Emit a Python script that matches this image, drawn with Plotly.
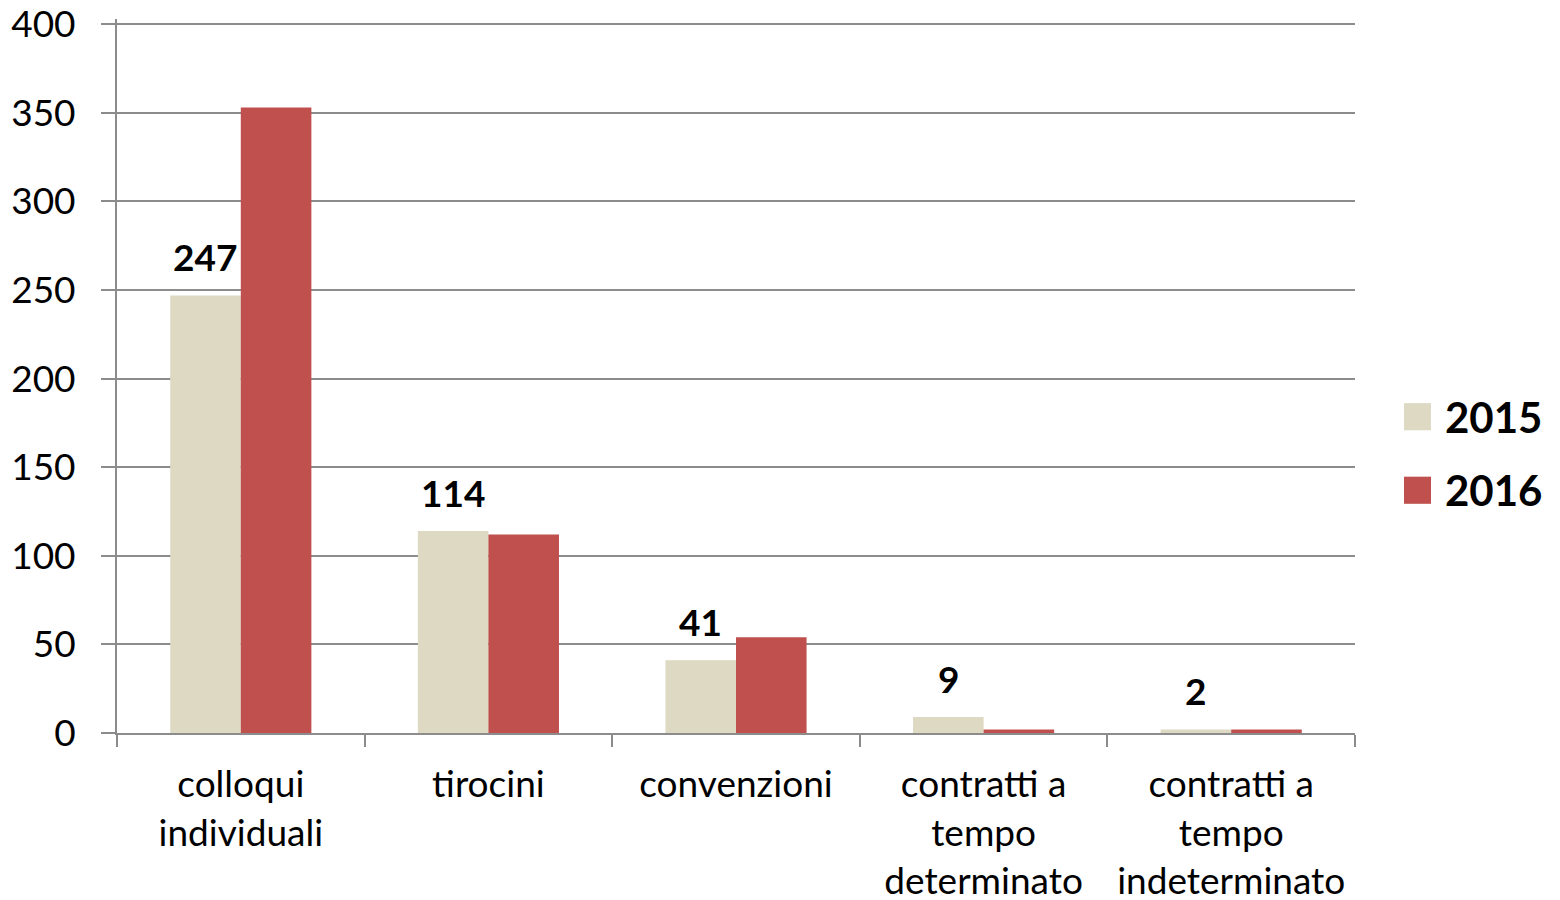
import plotly.graph_objects as go

categories = ["colloqui<br>individuali", "tirocini", "convenzioni",
              "contratti a<br>tempo<br>determinato", "contratti a<br>tempo<br>indeterminato"]
values_2015 = [247, 114, 41, 9, 2]
values_2016 = [353, 112, 54, 2, 2]
series_names = ["2015", "2016"]
series_colors = ["#DDD9C3", "#C0504D"]
y_ticks = [0, 50, 100, 150, 200, 250, 300, 350, 400]
Y_MAX = 403

FONT = "Lato"
fig = go.Figure()
for name, vals, col in zip(series_names, [values_2015, values_2016], series_colors):
    fig.add_trace(go.Bar(
        name=name, x=categories, y=vals,
        marker=dict(color=col, line=dict(width=0)),
        showlegend=False,
    ))

# data labels for 2015 series (above the left bar of each group)
for c, v in zip(categories, values_2015):
    fig.add_annotation(
        x=c, y=v, text=f"<b>{v}</b>", showarrow=False,
        xanchor="center", yanchor="bottom", xshift=-35.5, yshift=14,
        font=dict(family=FONT, size=37, color="black"),
    )

# custom legend (larger swatches than plotly's built-in legend)
legend_y = [0.443, 0.340]
for name, col, ly in zip(series_names, series_colors, legend_y):
    fig.add_shape(type="rect", xref="paper", yref="paper",
                  x0=1.0396, x1=1.0614, y0=ly - 0.019, y1=ly + 0.019,
                  fillcolor=col, line=dict(width=0))
    fig.add_annotation(xref="paper", yref="paper", x=1.0711, y=ly,
                       text=f"<b>{name}</b>", showarrow=False,
                       xanchor="left", yanchor="middle",
                       font=dict(family=FONT, size=42, color="black"))

fig.update_layout(
    width=1560, height=900,
    margin=dict(l=109, r=213, t=11, b=175, autoexpand=False),
    paper_bgcolor="white", plot_bgcolor="white",
    barmode="group", bargap=0.43, bargroupgap=0,
    font=dict(family=FONT, size=37, color="black"),
    showlegend=False,
)
fig.update_xaxes(
    showline=True, linecolor="#8C8C8C", linewidth=2,
    ticks="outside", tickson="boundaries", ticklen=12, tickcolor="#8C8C8C", tickwidth=2,
    tickfont=dict(family=FONT, size=37), showgrid=False, automargin=False,
    ticklabelstandoff=18,
)
fig.update_yaxes(
    range=[0, Y_MAX], tickvals=y_ticks,
    showline=True, linecolor="#8C8C8C", linewidth=2,
    ticks="outside", ticklen=14, tickcolor="#8C8C8C", tickwidth=2,
    showgrid=True, gridcolor="#8C8C8C", gridwidth=2,
    tickfont=dict(family=FONT, size=37), zeroline=False, automargin=False,
    ticklabelstandoff=18, ticklabeloverflow="allow",
)
fig.write_html("out.html")
